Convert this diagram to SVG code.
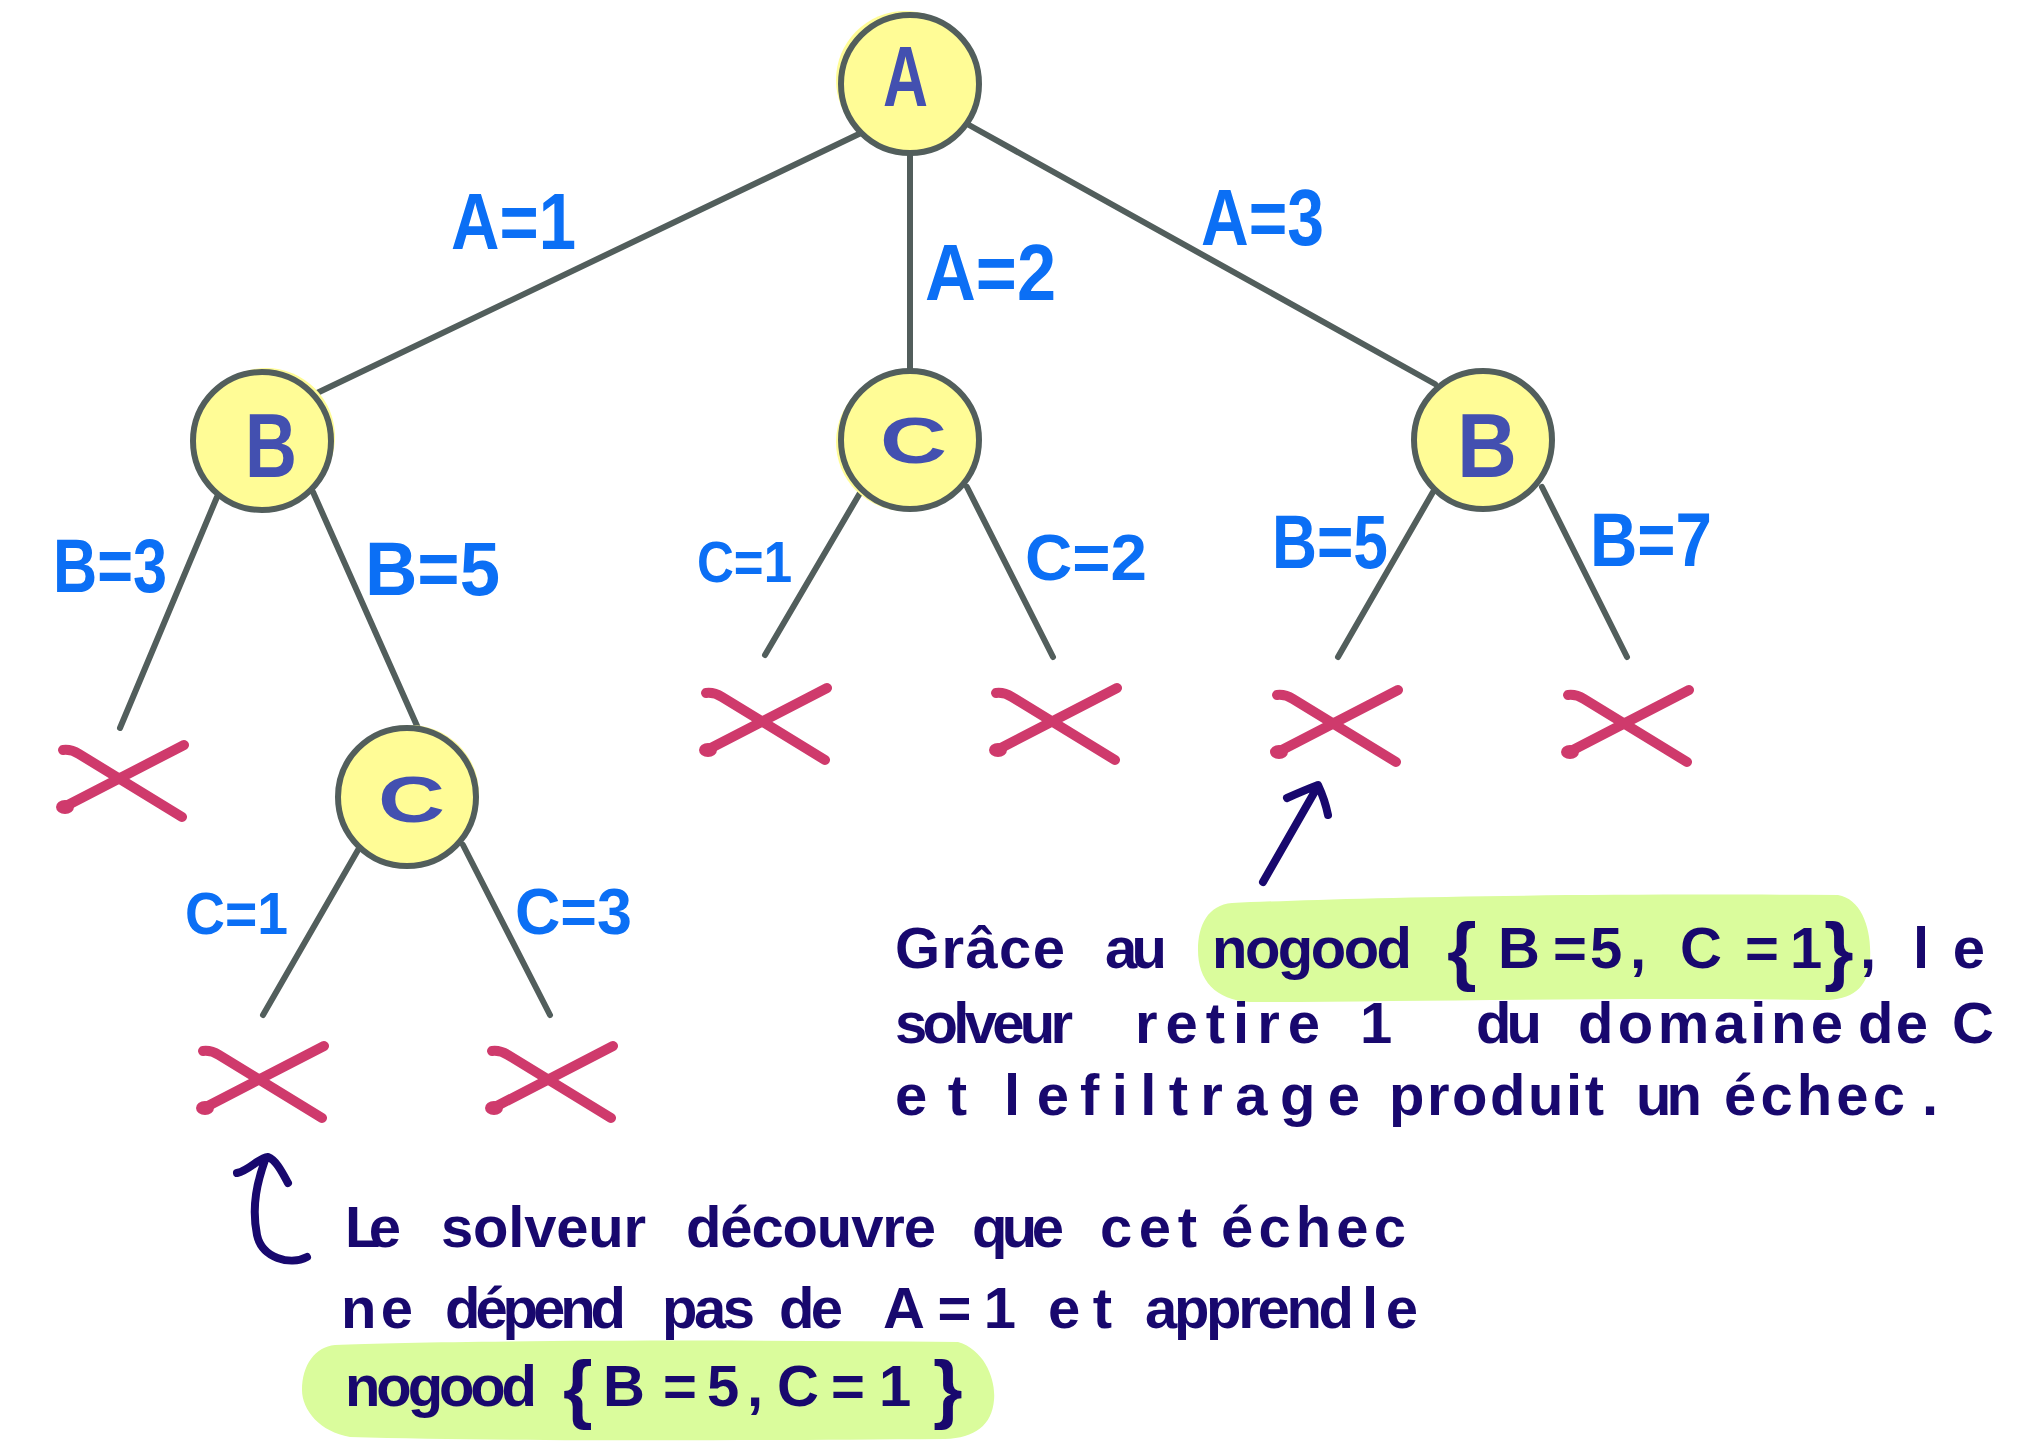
<svg xmlns="http://www.w3.org/2000/svg" xmlns:xlink="http://www.w3.org/1999/xlink" width="2020" height="1456" viewBox="0 0 2020 1456">
<style>
.edge{stroke:#525e5c;stroke-width:6;stroke-linecap:round;fill:none}
.ring{fill:#fffc96;stroke:#525e5c;stroke-width:6}
.blob{fill:#fffc96}
.nl{font-family:"Liberation Sans",Arial,sans-serif;font-weight:bold;fill:#4350b0}
.lbl{font-family:"Liberation Sans",Arial,sans-serif;font-weight:bold;fill:#0b6ff5}
.xm{stroke:#cf3a6c;stroke-width:10;stroke-linecap:round;stroke-linejoin:round;fill:none}
.xd{fill:#cf3a6c}
.note{font-family:"Liberation Sans",Arial,sans-serif;font-weight:bold;font-size:58px;fill:#18086e}
.hl{fill:#dafc9c}
.arr{stroke:#18086e;stroke-width:8;fill:none;stroke-linecap:round;stroke-linejoin:round}
</style>
<defs>
<g id="cross">
<path class="xm" d="M-59,-31 Q-51,-32 -43,-27 L60,36 M-56,25 L62,-36"/>
<ellipse class="xd" cx="-57" cy="26" rx="9" ry="7"/>
</g>
</defs>
<rect width="2020" height="1456" fill="#ffffff"/>

<g id="connectors">
<path class="edge" d="M861,133 L317,393"/>
<path class="edge" d="M910,150 L910,372"/>
<path class="edge" d="M969,125 L1435,384"/>
<path class="edge" d="M217,497 L120,728"/>
<path class="edge" d="M313,492 L418,728"/>
<path class="edge" d="M860,493 L765,655"/>
<path class="edge" d="M967,487 L1053,657"/>
<path class="edge" d="M1433,492 L1338,657"/>
<path class="edge" d="M1542,487 L1627,657"/>
<path class="edge" d="M358,850 L263,1015"/>
<path class="edge" d="M463,845 L550,1015"/>
<g id="edge-labels">
<text class="lbl" x="451" y="249" font-size="80" textLength="125" lengthAdjust="spacingAndGlyphs">A=1</text>
<text class="lbl" x="925" y="300" font-size="80" textLength="131" lengthAdjust="spacingAndGlyphs">A=2</text>
<text class="lbl" x="1201" y="245" font-size="80" textLength="123" lengthAdjust="spacingAndGlyphs">A=3</text>
<text class="lbl" x="53" y="592" font-size="76" textLength="114" lengthAdjust="spacingAndGlyphs">B=3</text>
<text class="lbl" x="365" y="595" font-size="76" textLength="135" lengthAdjust="spacingAndGlyphs">B=5</text>
<text class="lbl" x="697" y="582" font-size="58" textLength="95" lengthAdjust="spacingAndGlyphs">C=1</text>
<text class="lbl" x="1025" y="580" font-size="64" textLength="122" lengthAdjust="spacingAndGlyphs">C=2</text>
<text class="lbl" x="1272" y="568" font-size="76" textLength="116" lengthAdjust="spacingAndGlyphs">B=5</text>
<text class="lbl" x="1590" y="566" font-size="76" textLength="122" lengthAdjust="spacingAndGlyphs">B=7</text>
<text class="lbl" x="185" y="934" font-size="60" textLength="103" lengthAdjust="spacingAndGlyphs">C=1</text>
<text class="lbl" x="515" y="934" font-size="64" textLength="117" lengthAdjust="spacingAndGlyphs">C=3</text>
</g>
</g>

<g id="node-A">
<circle class="blob" cx="905" cy="80" r="69"/>
<circle class="ring" cx="910" cy="84" r="69"/>
<text class="nl" x="883" y="106" font-size="86" textLength="45" lengthAdjust="spacingAndGlyphs">A</text>
</g>
<g id="node-B1">
<circle class="blob" cx="266" cy="437" r="69"/>
<circle class="ring" cx="262" cy="441" r="69"/>
<text class="nl" x="245" y="477" font-size="90" textLength="52" lengthAdjust="spacingAndGlyphs">B</text>
</g>
<g id="node-C1">
<circle class="blob" cx="905" cy="442" r="69"/>
<circle class="ring" cx="910" cy="440" r="69"/>
<text class="nl" x="880" y="463" font-size="64" textLength="67" lengthAdjust="spacingAndGlyphs">C</text>
</g>
<g id="node-B2">
<circle class="ring" cx="1483" cy="440" r="69"/>
<text class="nl" x="1457" y="477" font-size="90" textLength="60" lengthAdjust="spacingAndGlyphs" fill="#1f46b0">B</text>
</g>
<g id="node-C2">
<circle class="blob" cx="410" cy="794" r="69"/>
<circle class="ring" cx="407" cy="797" r="69"/>
<text class="nl" x="378" y="822" font-size="64" textLength="67" lengthAdjust="spacingAndGlyphs">C</text>
</g>

<g id="fail-1"><use xlink:href="#cross" href="#cross" x="122" y="781"/></g>
<g id="fail-2"><use xlink:href="#cross" href="#cross" x="765" y="724"/></g>
<g id="fail-3"><use xlink:href="#cross" href="#cross" x="1055" y="724"/></g>
<g id="fail-4"><use xlink:href="#cross" href="#cross" x="1336" y="726"/></g>
<g id="fail-5"><use xlink:href="#cross" href="#cross" x="1627" y="726"/></g>
<g id="fail-6"><use xlink:href="#cross" href="#cross" x="262" y="1082"/></g>
<g id="fail-7"><use xlink:href="#cross" href="#cross" x="551" y="1082"/></g>

<g id="note-right">
<path class="hl" d="M1232,903 C1320,899 1520,893 1838,895 C1862,899 1872,930 1870,960 C1868,990 1850,1001 1820,1000 C1600,997 1400,1002 1250,1002 C1215,1000 1198,980 1198,950 C1198,925 1208,905 1232,903 Z"/>
<path class="arr" d="M1263,882 L1318,786 M1287,798 Q1305,790 1318,785 Q1325,800 1328,815"/>
<text class="note">
<tspan x="895" y="968" textLength="170">Grâce</tspan>
<tspan x="1105" y="968" textLength="62">au</tspan>
<tspan x="1212" y="968" textLength="200">nogood</tspan>
<tspan x="1447" y="976" font-size="76">{</tspan>
<tspan x="1498 1553 1590 1630" y="968">B=5,</tspan>
<tspan x="1680 1745 1790" y="968">C=1</tspan>
<tspan x="1824" y="976" font-size="76">}</tspan>
<tspan x="1860" y="968">,</tspan>
<tspan x="1913" y="968" textLength="72">le</tspan>
<tspan x="895" y="1043" textLength="178">solveur</tspan>
<tspan x="1135" y="1043" textLength="185">retire</tspan>
<tspan x="1360" y="1043">1</tspan>
<tspan x="1476" y="1043" textLength="66">du</tspan>
<tspan x="1578" y="1043" textLength="265">domaine</tspan>
<tspan x="1858" y="1043" textLength="70">de</tspan>
<tspan x="1952" y="1043">C</tspan>
<tspan x="895" y="1115" textLength="72">et</tspan>
<tspan x="1004" y="1115" textLength="65">le</tspan>
<tspan x="1080" y="1115" textLength="280">filtrage</tspan>
<tspan x="1389" y="1115" textLength="215">produit</tspan>
<tspan x="1636" y="1115" textLength="66">un</tspan>
<tspan x="1724" y="1115" textLength="181">échec</tspan>
<tspan x="1922" y="1115">.</tspan>
</text>
</g>

<g id="note-left">
<path class="hl" d="M335,1345 C420,1341 700,1339 958,1342 C985,1350 996,1380 994,1400 C992,1425 975,1438 945,1439 C700,1441 500,1441 350,1437 C320,1432 302,1410 302,1390 C302,1365 315,1347 335,1345 Z"/>
<path class="arr" d="M307,1257 C290,1266 262,1258 257,1235 C251,1205 258,1180 265,1160 M237,1173 C250,1170 258,1158 268,1157 C276,1160 282,1172 288,1183"/>
<text class="note">
<tspan x="345" y="1247" textLength="56">Le</tspan>
<tspan x="441" y="1247" textLength="205">solveur</tspan>
<tspan x="686" y="1247" textLength="250">découvre</tspan>
<tspan x="972" y="1247" textLength="92">que</tspan>
<tspan x="1100" y="1247" textLength="97">cet</tspan>
<tspan x="1221" y="1247" textLength="185">échec</tspan>
<tspan x="341" y="1328" textLength="72">ne</tspan>
<tspan x="445" y="1328" textLength="181">dépend</tspan>
<tspan x="662" y="1328" textLength="93">pas</tspan>
<tspan x="779" y="1328" textLength="64">de</tspan>
<tspan x="883" y="1328" textLength="133">A=1</tspan>
<tspan x="1048" y="1328" textLength="64">et</tspan>
<tspan x="1145" y="1328" textLength="209">apprend</tspan>
<tspan x="1362" y="1328" textLength="56">le</tspan>
<tspan x="345" y="1406" textLength="192">nogood</tspan>
<tspan x="563" y="1414" font-size="76">{</tspan>
<tspan x="603 663 707 747" y="1406">B=5,</tspan>
<tspan x="777 831 879" y="1406">C=1</tspan>
<tspan x="933" y="1414" font-size="76">}</tspan>
</text>
</g>
</svg>
